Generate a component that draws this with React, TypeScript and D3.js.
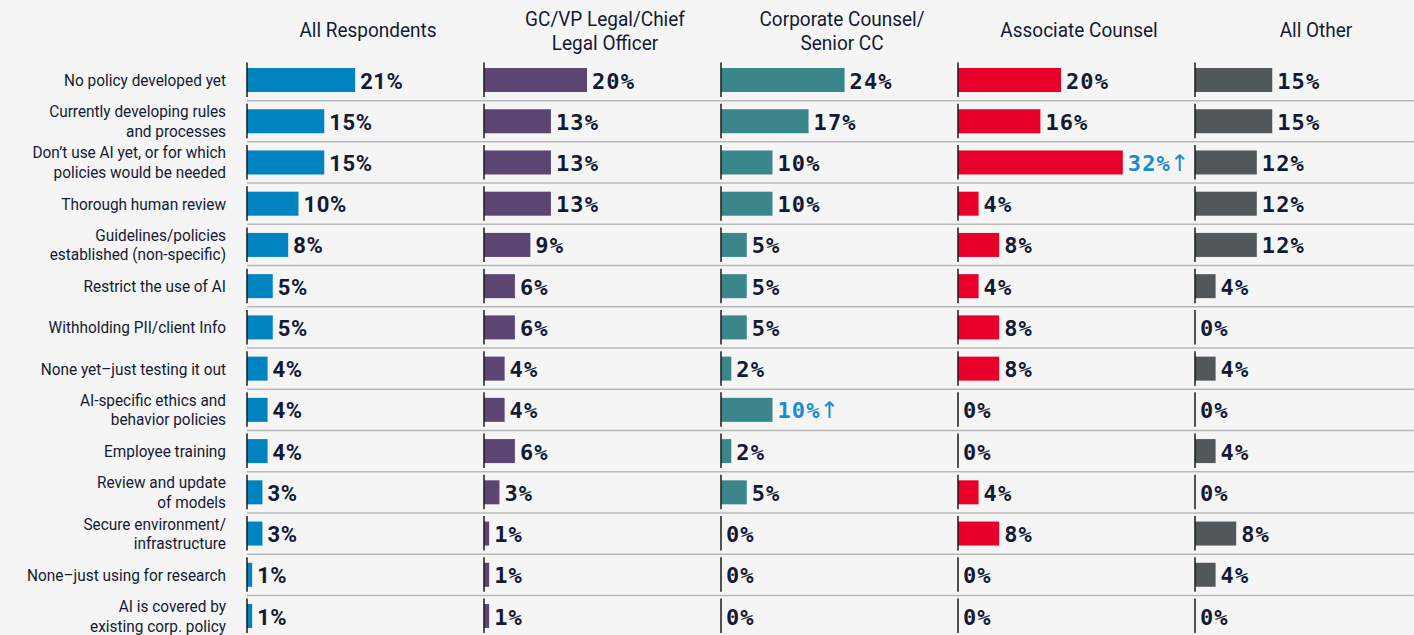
import React from "react";
import * as d3 from "d3";

const categories = [
  ["No policy developed yet"],
  ["Currently developing rules", "and processes"],
  ["Don’t use AI yet, or for which", "policies would be needed"],
  ["Thorough human review"],
  ["Guidelines/policies", "established (non-specific)"],
  ["Restrict the use of AI"],
  ["Withholding PII/client Info"],
  ["None yet–just testing it out"],
  ["AI-specific ethics and", "behavior policies"],
  ["Employee training"],
  ["Review and update", "of models"],
  ["Secure environment/", "infrastructure"],
  ["None–just using for research"],
  ["AI is covered by", "existing corp. policy"],
];

const groups = [
  ["All Respondents"],
  ["GC/VP Legal/Chief", "Legal Officer"],
  ["Corporate Counsel/", "Senior CC"],
  ["Associate Counsel"],
  ["All Other"],
];

const allRespondents = [21, 15, 15, 10, 8, 5, 5, 4, 4, 4, 3, 3, 1, 1];
const gcVpLegal = [20, 13, 13, 13, 9, 6, 6, 4, 4, 6, 3, 1, 1, 1];
const corporateCounsel = [24, 17, 10, 10, 5, 5, 5, 2, 10, 2, 5, 0, 0, 0];
const associateCounsel = [20, 16, 32, 4, 8, 4, 8, 8, 0, 0, 4, 8, 0, 0];
const allOther = [15, 15, 12, 12, 12, 4, 0, 4, 0, 4, 0, 8, 4, 0];

// [group index, category index] of values flagged as significantly higher
const highlights = [
  [3, 2],
  [2, 8],
];

const series = [allRespondents, gcVpLegal, corporateCounsel, associateCounsel, allOther];
const colors = ["#0083c1", "#5c4572", "#3b868a", "#e8002a", "#525759"];

const W = 1414;
const H = 635;
const TEXT = "#141a33";
const HILITE = "#1a8ccb";

export default function App() {
  const idx = categories.map((_, i) => i);
  const y = d3.scaleBand<number>().domain(idx).range([59.4, 59.4 + 14 * 41.23]).padding(0);
  const gx = d3.scaleBand<number>().domain(groups.map((_, i) => i)).range([247, 247 + 5 * 237]).padding(0);
  const x = d3.scaleLinear().domain([0, 100]).range([0, 515]);
  const bw = y.bandwidth();
  const barH = 24;
  const sx = 0.905;

  return (
    <div style={{ position: "fixed", left: 0, top: 0, width: W, height: H, background: "#f5f5f5" }}>
      <svg width={W} height={H} style={{ display: "block" }}>
        <rect x={0} y={0} width={W} height={H} fill="#f5f5f5" />
        {/* separators */}
        {idx.slice(0, -1).map((i) => (
          <line key={"sep" + i} x1={247} x2={W} y1={y(i)! + bw} y2={y(i)! + bw} stroke="#b9b9b9" strokeWidth={1.5} />
        ))}
        {/* headers */}
        {groups.map((g, k) => {
          const cx = gx(k)! + 121;
          const ys = g.length === 1 ? [36.5] : [25.5, 49.5];
          return g.map((t, j) => (
            <text key={"h" + k + j} transform={`translate(${cx},${ys[j]}) scale(${sx},1)`} textAnchor="middle"
              fontFamily="Roboto" fontSize={21} fill={TEXT}>{t}</text>
          ));
        })}
        {/* category labels */}
        {categories.map((c, i) => {
          const cy = y(i)! + bw / 2;
          const ys = c.length === 1 ? [cy + 6] : [cy - 4, cy + 15.5];
          return c.map((t, j) => (
            <text key={"c" + i + j} transform={`translate(226,${ys[j]}) scale(${sx},1)`} textAnchor="end"
              fontFamily="Roboto" fontSize={17} fill={TEXT}>{t}</text>
          ));
        })}
        {/* bars */}
        {series.map((vals, k) => {
          const x0 = gx(k)!;
          return (
            <g key={"s" + k}>
              {vals.map((v, i) => {
                const cy = y(i)! + bw / 2;
                const hl = highlights.some(([a, b]) => a === k && b === i);
                const w = x(v);
                return (
                  <g key={i}>
                    {w > 0 && <rect x={x0} y={cy - barH / 2} width={w} height={barH} fill={colors[k]} />}
                    <line x1={x0} x2={x0} y1={cy - 17.5} y2={cy + 17} stroke="#1a1a1a" strokeWidth={1.5} />
                    <text x={x0 + w + 5} y={cy + 8.5}
                      fontFamily={k === 0 ? "Roboto" : "DejaVu Sans Mono"} fontWeight={700}
                      fontSize={22} letterSpacing={k === 0 ? 0.6 : 1.1}
                      fill={hl ? HILITE : TEXT}>
                      {v + "%"}
                      {hl && (
                        <tspan fontFamily="DejaVu Sans" fontWeight={400} fontSize={23} dx={-1}>↑</tspan>
                      )}
                    </text>
                  </g>
                );
              })}
            </g>
          );
        })}
      </svg>
    </div>
  );
}
